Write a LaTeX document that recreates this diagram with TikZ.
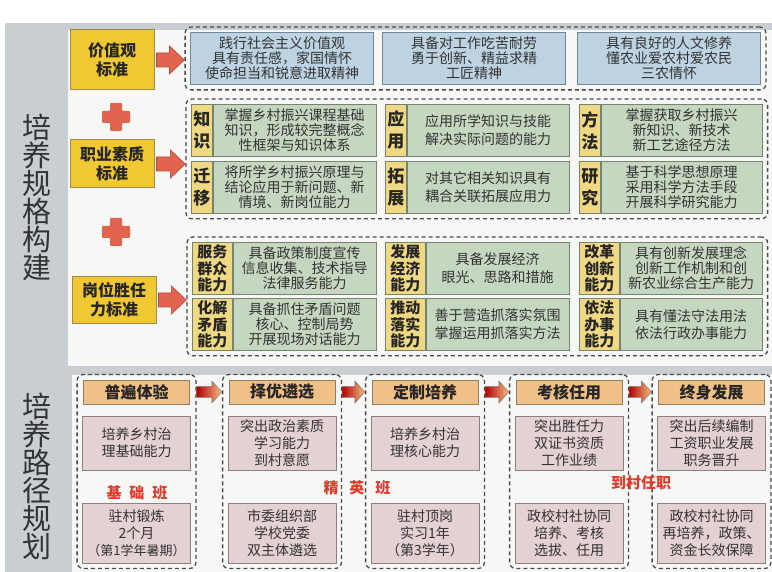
\documentclass[tikz,border=0pt]{standalone}
\usepackage{fontspec}
\setmainfont{Noto Sans CJK SC}
\usetikzlibrary{calc,positioning,fit}

\definecolor{stripgray}{HTML}{C9CED2}
\definecolor{panelwhite}{HTML}{F7F8F6}
\definecolor{stdyellow}{HTML}{F0C832}
\definecolor{stdedge}{HTML}{9C8C50}
\definecolor{arrowred}{HTML}{E2644E}
\definecolor{arrowedge}{HTML}{B24C3C}
\definecolor{valueblue}{HTML}{BDD3E1}
\definecolor{blueedge}{HTML}{72889A}
\definecolor{skillgreen}{HTML}{C6D7C1}
\definecolor{greenedge}{HTML}{74846F}
\definecolor{taglight}{HTML}{F1D983}
\definecolor{headorange}{HTML}{F1C086}
\definecolor{headedge}{HTML}{8E7E66}
\definecolor{stagepink}{HTML}{E4D1D4}
\definecolor{pinkedge}{HTML}{8E7E82}
\definecolor{classred}{HTML}{E23A2C}
\definecolor{inkgray}{HTML}{333333}
\definecolor{dashgray}{HTML}{4A4A4A}

\tikzset{
  stdbox/.style={draw=stdedge, line width=1pt, fill=stdyellow, minimum width=84pt, align=center, inner sep=0pt, font=\fontsize{16}{19}\selectfont\bfseries, text=black!85},
  valuebox/.style={draw=blueedge, line width=0.8pt, fill=valueblue, minimum width=183pt, minimum height=52pt, align=center, inner sep=0pt, font=\fontsize{14}{15}\selectfont, text=inkgray},
  tagbox/.style={draw=greenedge, line width=0.8pt, fill=taglight, minimum height=52pt, align=center, inner sep=0pt, text=black!85},
  skillbox/.style={draw=greenedge, line width=0.8pt, fill=skillgreen, minimum height=52pt, align=center, inner sep=0pt, font=\fontsize{14}{15}\selectfont, text=inkgray},
  groupbox/.style={draw=dashgray, line width=1.3pt, dash pattern=on 4pt off 3pt, rounded corners=6pt, inner sep=5pt},
  stagehead/.style={draw=headedge, line width=0.8pt, fill=headorange, minimum width=106pt, minimum height=24pt, inner sep=0pt, font=\fontsize{16}{16}\selectfont\bfseries, text=black!85},
  stagebox/.style={draw=pinkedge, line width=0.8pt, fill=stagepink, minimum width=108pt, align=center, inner sep=0pt, font=\fontsize{14}{17}\selectfont, text=inkgray},
  classtext/.style={text=classred, font=\fontsize{15}{15}\selectfont\bfseries},
  sidetext/.style={align=center, font=\fontsize{29}{28}\selectfont, text=inkgray},
  redarr/.style={draw=arrowedge, line width=0.6pt, fill=arrowred},
  stagearr/.style={draw=gray, line width=0.5pt, left color=red!70!black, right color=headorange},
}

% fat red arrow from a standard box to its group
\newcommand{\redarrow}[2]{%
  \path ($(#1.east)+(2,0)$) coordinate (ra) (ra -| #2.west) coordinate (rb);
  \draw[redarr] ($(ra)+(0,-7)$) -- ($(rb)+(-15,-7)$) -- ($(rb)+(-15,-14)$) -- (rb) -- ($(rb)+(-15,14)$) -- ($(rb)+(-15,7)$) -- ($(ra)+(0,7)$) -- cycle;}
% shaded arrow between two stage columns
\newcommand{\stagearrow}[3]{%
  \path (#2.east |- #1) coordinate (sa) (#3.west |- #1) coordinate (sb);
  \draw[stagearr] ($(sa)+(0,-5.5)$) -- ($(sb)+(-10,-5.5)$) -- ($(sb)+(-10,-11)$) -- (sb) -- ($(sb)+(-10,11)$) -- ($(sb)+(-10,5.5)$) -- ($(sa)+(0,5.5)$) -- cycle;}

\begin{document}
\begin{tikzpicture}[x=1pt,y=-1pt]
	\useasboundingbox (0,0) rectangle (772,572);
	\fill[white] (0,0) rectangle (772,572);
	\fill[stripgray] (5,23) rectangle (772,572);
	\fill[panelwhite] (68,30) rectangle (772,366);
	\fill[panelwhite] (72,375) rectangle (772,572);
	\node[sidetext] (sideA) at (37,197) {培\\养\\规\\格\\构\\建};
	\node[sidetext] (sideB) at (37,476) {培\\养\\路\\径\\规\\划};

	% standards
	\node[stdbox, minimum height=60pt] (y1) at (112,60) {价值观\\标准};
	\node[stdbox, minimum height=48pt] (y2) at (112,164) {职业素质\\标准};
	\node[stdbox, minimum height=47pt] (y3) at (114,300) {岗位胜任\\力标准};
	\fill[arrowred, rounded corners=1pt] (110,103) -- (122,103) -- (122,111) -- (130,111) -- (130,123) -- (122,123) -- (122,131) -- (110,131) -- (110,123) -- (102,123) -- (102,111) -- (110,111) -- cycle;
	\fill[arrowred, rounded corners=1pt] (110,218) -- (122,218) -- (122,226) -- (130,226) -- (130,238) -- (122,238) -- (122,246) -- (110,246) -- (110,238) -- (102,238) -- (102,226) -- (110,226) -- cycle;

	% value row
	\node[valuebox] (b1) at (282,58.5) {践行社会主义价值观\\具有责任感，家国情怀\\使命担当和锐意进取精神};
	\node[valuebox] (b2) at (474,58.5) {具备对工作吃苦耐劳\\勇于创新、精益求精\\工匠精神};
	\node[valuebox] (b3) at (669,58.5) {具有良好的人文修养\\懂农业爱农村爱农民\\三农情怀};
	\node[groupbox, fit=(b1)(b3)] (c1) {};

	% quality row
	\node[tagbox, minimum width=21pt, anchor=north west, font=\fontsize{17}{22}\selectfont\bfseries] (zs) at (191,104) {知\\识};
	\node[skillbox, minimum width=163pt, right=0pt of zs] (zst) {掌握乡村振兴课程基础\\知识，形成较完整概念\\性框架与知识体系};
	\node[tagbox, minimum width=21pt, anchor=north west, font=\fontsize{17}{22}\selectfont\bfseries] (yy) at (385,104) {应\\用};
	\node[skillbox, minimum width=162pt, right=0pt of yy] (yyt) {应用所学知识与技能\\[3pt]解决实际问题的能力};
	\node[tagbox, minimum width=21pt, anchor=north west, font=\fontsize{17}{22}\selectfont\bfseries] (ff) at (579,104) {方\\法};
	\node[skillbox, minimum width=161pt, right=0pt of ff] (fft) {掌握获取乡村振兴\\新知识、新技术\\新工艺途径方法};
	\node[tagbox, minimum width=21pt, anchor=north west, font=\fontsize{17}{22}\selectfont\bfseries] (qy) at (191,161) {迁\\移};
	\node[skillbox, minimum width=163pt, right=0pt of qy] (qyt) {将所学乡村振兴原理与\\结论应用于新问题、新\\情境、新岗位能力};
	\node[tagbox, minimum width=21pt, anchor=north west, font=\fontsize{17}{22}\selectfont\bfseries] (tz) at (385,161) {拓\\展};
	\node[skillbox, minimum width=162pt, right=0pt of tz] (tzt) {对其它相关知识具有\\[3pt]耦合关联拓展应用力};
	\node[tagbox, minimum width=21pt, anchor=north west, font=\fontsize{17}{22}\selectfont\bfseries] (yj) at (579,161) {研\\究};
	\node[skillbox, minimum width=161pt, right=0pt of yj] (yjt) {基于科学思想原理\\采用科学方法手段\\开展科学研究能力};
	\node[groupbox, fit=(zs)(fft)(yjt)] (c2) {};

	% competence row
	\node[tagbox, minimum width=40pt, anchor=north west, font=\fontsize{15}{16.5}\selectfont\bfseries] (fw) at (192,242) {服务\\群众\\能力};
	\node[skillbox, minimum width=143pt, right=0pt of fw] (fwt) {具备政策制度宣传\\信息收集、技术指导\\法律服务能力};
	\node[tagbox, minimum width=40pt, anchor=north west, font=\fontsize{15}{16.5}\selectfont\bfseries] (fz) at (385,242) {发展\\经济\\能力};
	\node[skillbox, minimum width=143pt, right=0pt of fz] (fzt) {具备发展经济\\[3pt]眼光、思路和措施};
	\node[tagbox, minimum width=40pt, anchor=north west, font=\fontsize{15}{16.5}\selectfont\bfseries] (gg) at (579,242) {改革\\创新\\能力};
	\node[skillbox, minimum width=142pt, right=0pt of gg] (ggt) {具有创新发展理念\\创新工作机制和创\\新农业综合生产能力};
	\node[tagbox, minimum width=40pt, anchor=north west, font=\fontsize{15}{16.5}\selectfont\bfseries] (hj) at (192,298) {化解\\矛盾\\能力};
	\node[skillbox, minimum width=143pt, right=0pt of hj] (hjt) {具备抓住矛盾问题\\核心、控制局势\\开展现场对话能力};
	\node[tagbox, minimum width=40pt, anchor=north west, font=\fontsize{15}{16.5}\selectfont\bfseries] (td) at (385,298) {推动\\落实\\能力};
	\node[skillbox, minimum width=143pt, right=0pt of td] (tdt) {善于营造抓落实氛围\\[3pt]掌握运用抓落实方法};
	\node[tagbox, minimum width=40pt, anchor=north west, font=\fontsize{15}{16.5}\selectfont\bfseries] (yf) at (579,298) {依法\\办事\\能力};
	\node[skillbox, minimum width=142pt, right=0pt of yf] (yft) {具有懂法守法用法\\[2pt]依法行政办事能力};
	\node[groupbox, fit=(fw)(ggt)(yft)] (c3) {};

	\redarrow{y1}{c1}
	\redarrow{y2}{c2}
	\redarrow{y3}{c3}

	% training path
	\node[stagehead] (h1) at (136.5,392) {普遍体验};
	\node[stagebox, minimum height=54pt] (p1a) at (136.5,443) {培养乡村治\\理基础能力};
	\node[stagebox, minimum height=60pt] (p1b) at (136.5,533) {驻村锻炼\\2个月\\{\fontsize{13}{17}\selectfont（第1学年暑期）}};
	\node[groupbox, fit=(h1)(p1b)] (g1) {};
	\node[stagehead] (h2) at (282,392) {择优遴选};
	\node[stagebox, minimum height=54pt] (p2a) at (282,443) {突出政治素质\\学习能力\\到村意愿};
	\node[stagebox, minimum height=60pt] (p2b) at (282,533) {市委组织部\\学校党委\\双主体遴选};
	\node[groupbox, fit=(h2)(p2b)] (g2) {};
	\node[stagehead] (h3) at (425,392) {定制培养};
	\node[stagebox, minimum height=54pt] (p3a) at (425,443) {培养乡村治\\理核心能力};
	\node[stagebox, minimum height=60pt] (p3b) at (425,533) {驻村顶岗\\实习1年\\（第3学年）};
	\node[groupbox, fit=(h3)(p3b)] (g3) {};
	\node[stagehead] (h4) at (569,392) {考核任用};
	\node[stagebox, minimum height=54pt] (p4a) at (569,443) {突出胜任力\\双证书资质\\工作业绩};
	\node[stagebox, minimum height=60pt] (p4b) at (569,533) {政校村社协同\\培养、考核\\选拔、任用};
	\node[groupbox, fit=(h4)(p4b)] (g4) {};
	\node[stagehead] (h5) at (711.5,392) {终身发展};
	\node[stagebox, minimum height=54pt] (p5a) at (711.5,443) {突出后续编制\\工资职业发展\\职务晋升};
	\node[stagebox, minimum height=60pt] (p5b) at (711.5,533) {政校村社协同\\再培养，政策、\\资金长效保障};
	\node[groupbox, fit=(h5)(p5b)] (g5) {};

	\stagearrow{h1}{g1}{g2}
	\stagearrow{h2}{g2}{g3}
	\stagearrow{h3}{g3}{g4}
	\stagearrow{h4}{g4}{g5}

	\node[classtext] (basic) at (137,493) {基\hspace{8pt}础\hspace{8pt}班};
	\node[classtext] (elite) at (357,488) {精\hspace{11pt}英\hspace{11pt}班};
	\node[classtext] (post) at (641,483) {到村任职};
\end{tikzpicture}
\end{document}
